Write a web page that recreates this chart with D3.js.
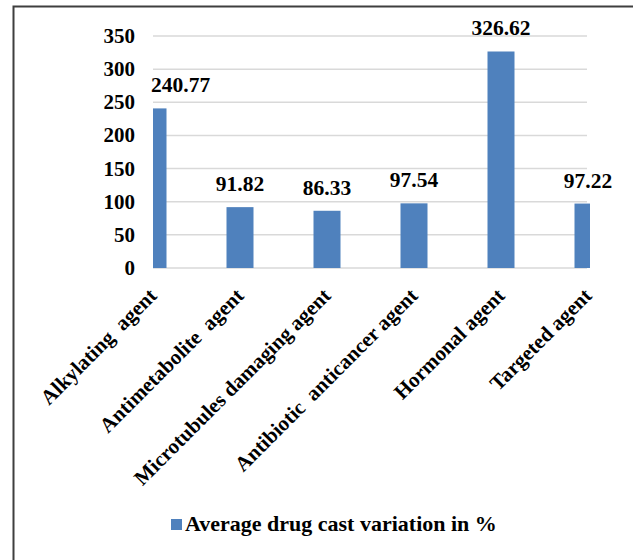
<!DOCTYPE html>
<html lang="en">
<head>
<meta charset="utf-8" />
<title>Average drug cast variation</title>
<script src="https://d3js.org/d3.v7.min.js"></script>
<style>
    body, html { margin: 0; padding: 0; background: #fff; }
    svg text { font-family: "Liberation Serif", "Times New Roman", serif; font-weight: bold; fill: #000; }
</style>
</head>
<body>
<div id="canvas"></div>
<script>
    // data
    var categories = ["Alkylating  agent", "Antimetabolite  agent", "Microtubules damaging agent",
                      "Antibiotic  anticancer agent", "Hormonal agent", "Targeted agent"];
    var values = [240.77, 91.82, 86.33, 97.54, 326.62, 97.22];
    var yTicks = [0, 50, 100, 150, 200, 250, 300, 350];
    var seriesName = "Average drug cast variation in %";

    var W = 633, H = 560;
    var plot = {left: 153, right: 588, top: 36, bottom: 268};

    var svg = d3.select("#canvas").append("svg")
        .attr("width", W)
        .attr("height", H);

    // outer frame (right / bottom edges are off the picture)
    svg.append("path")
        .attr("d", "M13.5," + (H + 5) + "V6.5H" + (W + 5))
        .attr("fill", "none")
        .attr("stroke", "#3f3f3f")
        .attr("stroke-width", 2);

    var x = d3.scalePoint()
        .domain(categories)
        .range([plot.left, plot.right]);

    var y = d3.scaleLinear()
        .domain([0, 350])
        .range([plot.bottom, plot.top]);

    // grid lines
    svg.append("g").selectAll("line")
        .data(yTicks)
        .enter().append("line")
        .attr("x1", plot.left)
        .attr("x2", plot.right - 1)
        .attr("y1", function(d) { return y(d); })
        .attr("y2", function(d) { return y(d); })
        .attr("stroke", "#d9d9d9")
        .attr("stroke-width", 1.5);

    // y tick labels
    svg.append("g").selectAll("text")
        .data(yTicks)
        .enter().append("text")
        .attr("x", 135)
        .attr("y", function(d) { return y(d) + 7; })
        .attr("text-anchor", "end")
        .style("font-size", "21px")
        .text(function(d) { return d; });

    // bars, clipped to the plot area
    svg.append("clipPath").attr("id", "clip")
        .append("rect")
        .attr("x", plot.left)
        .attr("y", 0)
        .attr("width", plot.right - plot.left + 2)
        .attr("height", plot.bottom + 1);

    var barW = 27;
    svg.append("g").attr("clip-path", "url(#clip)")
        .selectAll("rect")
        .data(values)
        .enter().append("rect")
        .attr("x", function(d, i) { return x(categories[i]) - barW / 2; })
        .attr("y", function(d) { return y(d); })
        .attr("width", barW)
        .attr("height", function(d) { return y(0) - y(d); })
        .attr("fill", "#4f81bd");

    // value labels
    svg.append("g").selectAll("text")
        .data(values)
        .enter().append("text")
        .attr("text-anchor", "middle")
        .style("font-size", "21.5px")
        .text(function(d) { return d.toFixed(2); })
        .attr("x", function(d, i) {
            var half = this.getComputedTextLength() / 2;
            return Math.max(x(categories[i]), plot.left - 2 + half);
        })
        .attr("y", function(d) { return y(d) - 16; });

    // category labels, rotated
    svg.append("g").selectAll("text")
        .data(categories)
        .enter().append("text")
        .attr("text-anchor", "end")
        .attr("xml:space", "preserve")
        .style("white-space", "pre")
        .style("font-size", "21px")
        .attr("transform", function(d) {
            return "translate(" + (x(d) + 5) + ",297) rotate(-45)";
        })
        .text(function(d) { return d; });

    // legend
    svg.append("rect")
        .attr("x", 171)
        .attr("y", 519)
        .attr("width", 11)
        .attr("height", 11)
        .attr("fill", "#4f81bd");

    svg.append("text")
        .attr("x", 185)
        .attr("y", 531)
        .style("font-size", "22px")
        .text(seriesName);
</script>
</body>
</html>
